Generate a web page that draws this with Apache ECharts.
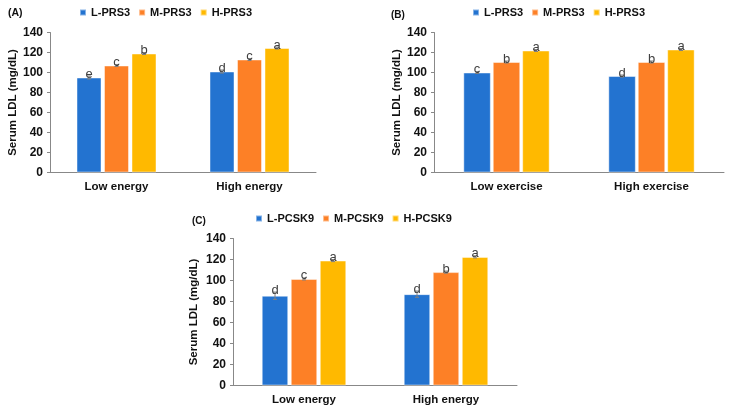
<!DOCTYPE html>
<html lang="en">
<head>
    <meta charset="UTF-8">
    <title>Serum LDL</title>
    <script src="https://cdn.jsdelivr.net/npm/echarts@6/dist/echarts.min.js"></script>
    <style>
        *{ padding:0; margin:0; box-sizing:border-box; }
        body{ background:#fff; }
        #main{ width:729px; height:408px; }
    </style>
</head>
<body>
    <div id="main"></div>
    <script>
        // categories and series names
        var energyCats = ["Low energy", "High energy"]
        var exerciseCats = ["Low exercise", "High exercise"]
        var prsNames = ["L-PRS3", "M-PRS3", "H-PRS3"]
        var pcskNames = ["L-PCSK9", "M-PCSK9", "H-PCSK9"]
        var yTicks = [0, 140, 20] // min, max, interval

        // (A) PRS3 x energy
        var aLow = [95, 101]
        var aMid = [107, 113]
        var aHigh = [119, 124.5]
        var aErr = [[1.5, 1.5], [1, 1], [1, 1]]
        var aLetters = [["e", "d"], ["c", "c"], ["b", "a"]]

        // (B) PRS3 x exercise
        var bLow = [100, 96.5]
        var bMid = [110.5, 110.5]
        var bHigh = [122, 123]
        var bErr = [[1, 1], [1, 1], [1, 1]]
        var bLetters = [["c", "d"], ["b", "b"], ["a", "a"]]

        // (C) PCSK9 x energy
        var cLow = [85.5, 87]
        var cMid = [101.5, 108]
        var cHigh = [119, 122.5]
        var cErr = [[3.5, 3], [1, 1], [1, 1]]
        var cLetters = [["d", "d"], ["c", "b"], ["a", "a"]]

        var colors = ["#2373D0", "#FD8026", "#FFB900"]
        var font = "Liberation Sans, Arial, sans-serif"

        var myCharts = echarts.init(document.getElementById("main"))

        function xAxisFor(idx, cats) {
            return {
                type: "category", gridIndex: idx, data: cats,
                axisTick: { show: false },
                axisLine: { lineStyle: { color: "#888", width: 1 } },
                axisLabel: { color: "#111", fontWeight: "bold", fontSize: 11.5, fontFamily: font, margin: 8 }
            }
        }
        function yAxisFor(idx, gap) {
            return {
                type: "value", gridIndex: idx, min: yTicks[0], max: yTicks[1], interval: yTicks[2],
                name: "Serum LDL (mg/dL)", nameLocation: "middle", nameGap: gap,
                nameTextStyle: { color: "#111", fontWeight: "bold", fontSize: 11.5, fontFamily: font },
                splitLine: { show: false },
                axisLine: { show: true, lineStyle: { color: "#888", width: 1 } },
                axisTick: { show: true, length: 3, lineStyle: { color: "#888" } },
                axisLabel: { color: "#111", fontWeight: "bold", fontSize: 12, fontFamily: font, margin: 7 }
            }
        }
        function barsFor(idx, names, groups, width, gap) {
            return groups.map(function (vals, k) {
                return {
                    name: names[k], type: "bar", xAxisIndex: idx, yAxisIndex: idx,
                    data: vals, barWidth: width, barGap: gap,
                    itemStyle: { color: colors[k], borderColor: "rgba(255,255,255,0.45)", borderWidth: 1 },
                    animation: false
                }
            })
        }
        // error bars and significance letters
        function errFor(idx, groups, errs, letters, pitch) {
            var data = [], labels = []
            groups.forEach(function (vals, k) {
                vals.forEach(function (v, c) {
                    data.push([c, v, errs[k][c], k])
                    labels.push(letters[k][c])
                })
            })
            return {
                type: "custom", xAxisIndex: idx, yAxisIndex: idx, z: 5, animation: false,
                silent: true, data: data,
                renderItem: function (params, api) {
                    var c = api.value(0), v = api.value(1), e = api.value(2), k = api.value(3)
                    var p = api.coord([c, v])
                    var x = p[0] + (k - 1) * pitch
                    var yt = api.coord([c, v + e])[1]
                    var yb = api.coord([c, v - e])[1]
                    var st = { stroke: "#808080", lineWidth: 1 }
                    return {
                        type: "group", children: [
                            { type: "line", shape: { x1: x, y1: yt, x2: x, y2: yb }, style: st },
                            { type: "line", shape: { x1: x - 2, y1: yt, x2: x + 2, y2: yt }, style: st },
                            { type: "line", shape: { x1: x - 2, y1: yb, x2: x + 2, y2: yb }, style: st },
                            {
                                type: "text", x: x, y: yt + 4.5,
                                style: { text: labels[params.dataIndex], align: "center", verticalAlign: "bottom",
                                    fontSize: 13, fill: "#404040", fontFamily: font }
                            }
                        ]
                    }
                }
            }
        }
        function legendFor(names, left, top) {
            return {
                data: names, left: left, top: top, padding: 0, itemGap: 8,
                icon: "rect", itemWidth: 6, itemHeight: 6,
                textStyle: { color: "#111", fontWeight: "bold", fontSize: 11, fontFamily: font }
            }
        }

        var option = {
            animation: false,
            title: [
                { text: "(A)", left: 3, top: 3, textStyle: { fontSize: 10.5, fontWeight: "bold", color: "#111", fontFamily: font } },
                { text: "(B)", left: 386, top: 5, textStyle: { fontSize: 10, fontWeight: "bold", color: "#111", fontFamily: font } },
                { text: "(C)", left: 187, top: 211, textStyle: { fontSize: 10, fontWeight: "bold", color: "#111", fontFamily: font } }
            ],
            legend: [
                legendFor(prsNames, 79, 7),
                legendFor(prsNames, 472, 7),
                legendFor(pcskNames, 255, 213)
            ],
            grid: [
                { left: 50, top: 32.5, width: 266, height: 140 },
                { left: 434, top: 32.5, width: 290, height: 140 },
                { left: 233, top: 238.5, width: 284, height: 147 }
            ],
            xAxis: [xAxisFor(0, energyCats), xAxisFor(1, exerciseCats), xAxisFor(2, energyCats)],
            yAxis: [yAxisFor(0, 31), yAxisFor(1, 29), yAxisFor(2, 33)],
            series: [].concat(
                barsFor(0, prsNames, [aLow, aMid, aHigh], 25, "10%"),
                barsFor(1, prsNames, [bLow, bMid, bHigh], 27.5, "7%"),
                barsFor(2, pcskNames, [cLow, cMid, cHigh], 26.5, "9.5%"),
                [errFor(0, [aLow, aMid, aHigh], aErr, aLetters, 27.5),
                 errFor(1, [bLow, bMid, bHigh], bErr, bLetters, 29.5),
                 errFor(2, [cLow, cMid, cHigh], cErr, cLetters, 29)]
            )
        }

        myCharts.setOption(option)
        window.onresize = myCharts.resize
    </script>
</body>
</html>
